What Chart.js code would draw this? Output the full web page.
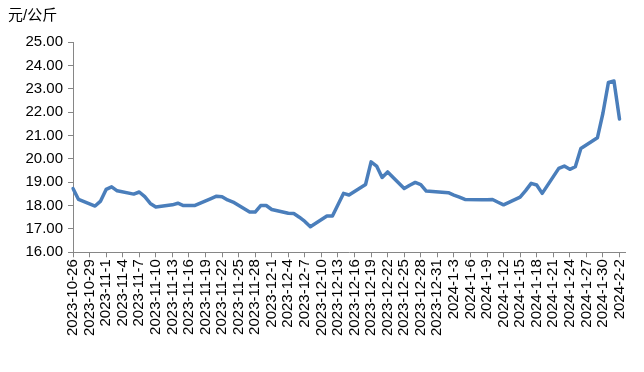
<!DOCTYPE html>
<html>
<head>
<meta charset="utf-8">
<script src="https://cdn.jsdelivr.net/npm/chart.js@4.4.1/dist/chart.umd.min.js"></script>
<style>
  html, body { margin: 0; padding: 0; background: #fff; }
  #wrap { width: 644px; height: 372px; position: relative; }
</style>
</head>
<body>
<div id="wrap"><canvas id="chart" width="644" height="372"></canvas></div>
<script>
// trading-day prices (yuan / kg)
const dates = [
  '2023-10-26', '2023-10-27', '2023-10-30', '2023-10-31', '2023-11-1', '2023-11-2', '2023-11-3',
  '2023-11-6', '2023-11-7', '2023-11-8', '2023-11-9', '2023-11-10',
  '2023-11-13', '2023-11-14', '2023-11-15', '2023-11-16', '2023-11-17',
  '2023-11-20', '2023-11-21', '2023-11-22', '2023-11-23', '2023-11-24',
  '2023-11-27', '2023-11-28', '2023-11-29', '2023-11-30', '2023-12-1',
  '2023-12-4', '2023-12-5', '2023-12-6', '2023-12-7', '2023-12-8',
  '2023-12-11', '2023-12-12', '2023-12-13', '2023-12-14', '2023-12-15',
  '2023-12-18', '2023-12-19', '2023-12-20', '2023-12-21', '2023-12-22',
  '2023-12-25', '2023-12-26', '2023-12-27', '2023-12-28', '2023-12-29',
  '2024-1-2', '2024-1-3', '2024-1-4', '2024-1-5',
  '2024-1-8', '2024-1-9', '2024-1-10', '2024-1-11', '2024-1-12',
  '2024-1-15', '2024-1-16', '2024-1-17', '2024-1-18', '2024-1-19',
  '2024-1-22', '2024-1-23', '2024-1-24', '2024-1-25', '2024-1-26',
  '2024-1-29', '2024-1-30', '2024-1-31', '2024-2-1', '2024-2-2'
];
const prices = [
  18.73, 18.26, 17.98, 18.19, 18.69, 18.80, 18.63,
  18.49, 18.58, 18.38, 18.09, 17.94,
  18.03, 18.10, 18.00, 18.00, 18.00,
  18.30, 18.40, 18.38, 18.24, 18.15,
  17.72, 17.72, 18.00, 18.00, 17.83,
  17.67, 17.66, 17.50, 17.32, 17.09,
  17.55, 17.55, 18.03, 18.52, 18.45,
  18.90, 19.87, 19.69, 19.20, 19.44,
  18.73, 18.87, 18.99, 18.90, 18.62,
  18.55, 18.45, 18.36, 18.26,
  18.25, 18.25, 18.26, 18.14, 18.03,
  18.36, 18.64, 18.95, 18.88, 18.52,
  19.59, 19.69, 19.55, 19.66, 20.44,
  20.90, 21.95, 23.27, 23.33, 21.70
];
const firstDay = '2023-10-26';
const lastDay = '2024-2-3';   // axis runs one day past the last label
const labelEvery = 3;         // one tick label every 3 days
const yMin = 16, yMax = 25, yStep = 1;
const unitLabel = '元/公斤';

function fmt(d) {
  return d.getFullYear() + '-' + (d.getMonth() + 1) + '-' + d.getDate();
}
function parse(s) {
  const p = s.split('-').map(Number);
  return new Date(p[0], p[1] - 1, p[2]);
}

// calendar-day axis, gaps on weekends / holidays
const days = [];
for (let d = parse(firstDay); d <= parse(lastDay); d.setDate(d.getDate() + 1)) {
  days.push(fmt(d));
}
const series = days.map((day) => {
  const i = dates.indexOf(day);
  return i >= 0 ? prices[i] : null;
});

const axisColor = '#868686';
const font = { family: 'Liberation Sans, Arial, "Noto Sans CJK SC"', size: 15 };

new Chart(document.getElementById('chart'), {
  type: 'line',
  data: {
    labels: days,
    datasets: [{
      data: series,
      borderColor: '#4a7ebb',
      borderWidth: 3.5,
      borderJoinStyle: 'round',
      borderCapStyle: 'round',
      pointRadius: 0,
      tension: 0,
      spanGaps: true,
      fill: false
    }]
  },
  options: {
    responsive: false,
    devicePixelRatio: 1,
    animation: false,
    layout: { padding: { left: 8, right: 19, top: 0, bottom: 34 } },
    plugins: {
      legend: { display: false },
      tooltip: { enabled: false },
      title: {
        display: true,
        text: unitLabel,
        align: 'start',
        color: '#000',
        font: { family: 'Liberation Sans, "Noto Sans CJK SC"', size: 15, weight: 'normal' },
        padding: { top: 7, bottom: 17 }
      }
    },
    scales: {
      x: {
        type: 'category',
        offset: false,
        border: { display: true, color: axisColor, width: 1 },
        grid: { display: true, drawOnChartArea: false, drawTicks: true, tickLength: 5, color: axisColor },
        ticks: {
          autoSkip: false,
          minRotation: 90,
          maxRotation: 90,
          padding: 2,
          color: '#000',
          font: font,
          callback: function (val, idx) {
            return idx % labelEvery === 0 ? this.getLabelForValue(val) : null;
          }
        }
      },
      y: {
        min: yMin,
        max: yMax,
        afterFit: (scale) => { scale.width = 65; },
        border: { display: true, color: axisColor, width: 1 },
        grid: { display: true, drawOnChartArea: false, drawTicks: true, tickLength: 5, color: axisColor },
        ticks: {
          stepSize: yStep,
          padding: 5,
          color: '#000',
          font: font,
          callback: (v) => v.toFixed(2)
        }
      }
    }
  }
});
</script>
</body>
</html>
